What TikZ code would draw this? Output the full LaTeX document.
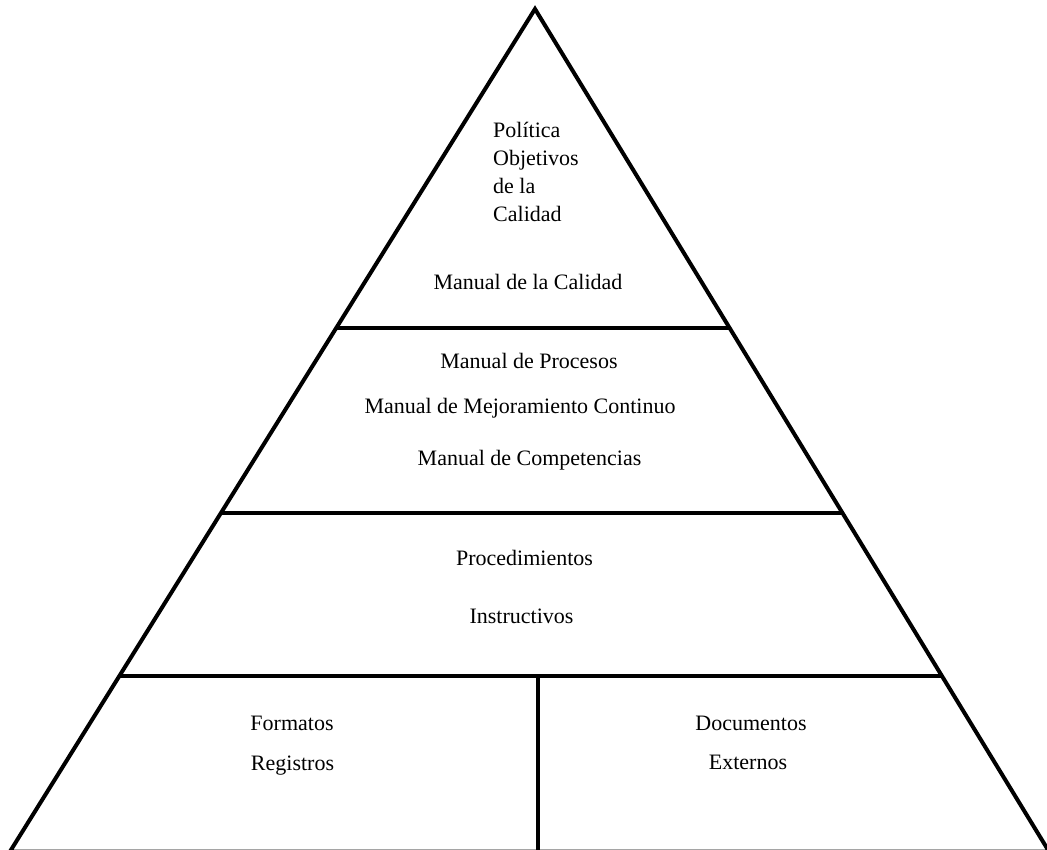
\documentclass[tikz,border=0pt]{standalone}
\usepackage{fontspec}
\setmainfont{Liberation Serif}
\usetikzlibrary{calc}
\begin{document}
\begin{tikzpicture}[x=1pt,y=-1pt,
  edge/.style={line width=4pt,line cap=butt,line join=miter},
  lbl/.style={font=\fontsize{22}{28}\selectfont,inner sep=0pt,anchor=base}]
\useasboundingbox (0,0) rectangle (1047,850);
\fill[white] (0,0) rectangle (1047,850);
\coordinate (apex) at (535,9);
\coordinate (bl) at (10,851.5);
\coordinate (br) at (1049,851.5);
% band boundaries
\coordinate (l1) at ($(apex)!0.3785!(bl)$);
\coordinate (r1) at ($(apex)!0.3785!(br)$);
\coordinate (l2) at ($(apex)!0.5982!(bl)$);
\coordinate (r2) at ($(apex)!0.5982!(br)$);
\coordinate (l3) at ($(apex)!0.7911!(bl)$);
\coordinate (r3) at ($(apex)!0.7911!(br)$);
\coordinate (mtop) at (538,675.5);
\coordinate (mbot) at (538,851);
\draw[edge] (bl) -- (apex) -- (br) -- cycle;
\draw[edge] (l1) -- (r1);
\draw[edge] (l2) -- (r2);
\draw[edge] (l3) -- (r3);
\draw[edge] (mtop) -- (mbot);
% texts
\node[lbl,anchor=base west] (pol) at (493,138) {Política};
\node[lbl,anchor=base west] (obj) at (493,166) {Objetivos};
\node[lbl,anchor=base west] (dla) at (493,194) {de la};
\node[lbl,anchor=base west] (cal) at (493,222) {Calidad};
\node[lbl] (mc) at (528,290) {Manual de la Calidad};
\node[lbl] (mp) at (529,368) {Manual de Procesos};
\node[lbl] (mm) at (520,413) {Manual de Mejoramiento Continuo};
\node[lbl] (mco) at (529.5,465) {Manual de Competencias};
\node[lbl] (proc) at (524.5,565) {Procedimientos};
\node[lbl] (ins) at (521.5,623) {Instructivos};
\node[lbl] (for) at (292,730) {Formatos};
\node[lbl] (reg) at (292.5,770) {Registros};
\node[lbl] (doc) at (751,730) {Documentos};
\node[lbl] (ext) at (748,769) {Externos};
\end{tikzpicture}
\end{document}
